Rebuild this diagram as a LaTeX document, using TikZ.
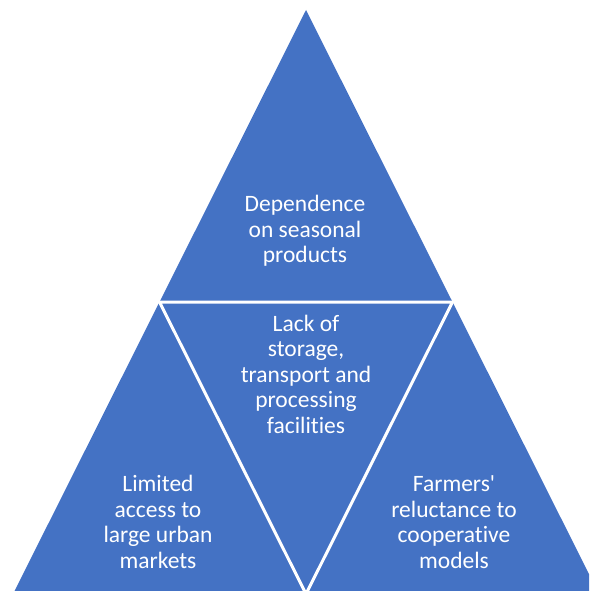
\documentclass[tikz,border=0pt]{standalone}
\usepackage{fontspec}
\setmainfont{Carlito}[Ligatures=NoCommon]
\definecolor{tblue}{HTML}{4472C4}
\begin{document}
\begin{tikzpicture}[x=1pt,y=-1pt,
  lbl/.style={text=white,align=center,anchor=base,inner sep=0pt,font=\fontsize{23.5}{25.4}\selectfont},
  sep/.style={draw=white,line width=3pt}]
\useasboundingbox (0,0) rectangle (589,591);
\clip (0,0) rectangle (589,591);
\coordinate (A) at (306,10);
\coordinate (BL) at (13,594);
\coordinate (BR) at (599,594);
\coordinate (ML) at (159.5,302);
\coordinate (MR) at (452.5,302);
\coordinate (MB) at (306,594);
\fill[tblue] (A) -- (BL) -- (BR) -- cycle;
\draw[sep] (ML) -- (MR) -- (MB) -- cycle;
\node[lbl] (top) at (305,262.5) {Dependence\\on seasonal\\products};
\node[lbl] (mid) at (306,433) {Lack of\\storage,\\transport and\\processing\\facilities};
\node[lbl] (left) at (158,568) {Limited\\access to\\large urban\\markets};
\node[lbl] (right) at (454,568) {Farmers\textquotesingle\\reluctance to\\cooperative\\models};
\end{tikzpicture}
\end{document}
